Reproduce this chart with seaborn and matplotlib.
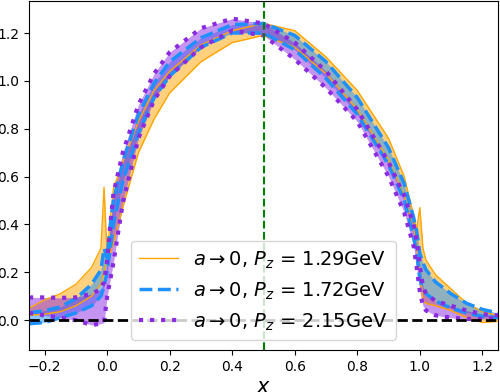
import numpy as np
import pandas as pd
import matplotlib
matplotlib.use("Agg")
import matplotlib.pyplot as plt
import seaborn as sns

# x grid shared by the three bands
x = [-0.25, -0.2, -0.15, -0.1, -0.05, -0.02, -0.01, 0.0, 0.01, 0.02, 0.05, 0.1, 0.15, 0.2, 0.3, 0.4,
     0.5, 0.6, 0.7, 0.8, 0.9, 0.95, 0.98, 0.99, 1.0, 1.01, 1.02, 1.05, 1.1, 1.15, 1.2, 1.25]

# Pz = 1.29 GeV
orange_hi = [0.05, 0.085, 0.11, 0.15, 0.22, 0.30, 0.555, 0.27, 0.42, 0.55, 0.66, 0.83, 0.96, 1.04, 1.15, 1.21,
             1.24, 1.21, 1.10, 0.96, 0.76, 0.60, 0.44, 0.38, 0.47, 0.30, 0.25, 0.19, 0.13, 0.07, 0.035, 0.02]
orange_lo = [0.02, 0.025, 0.035, 0.06, 0.10, 0.15, 0.20, 0.25, 0.28, 0.32, 0.47, 0.70, 0.84, 0.95, 1.08, 1.16,
             1.19, 1.14, 1.03, 0.88, 0.67, 0.52, 0.38, 0.32, 0.20, 0.08, 0.07, 0.06, 0.04, 0.01, -0.01, -0.005]

# Pz = 1.72 GeV
blue_hi = [0.03, 0.04, 0.055, 0.09, 0.15, 0.21, 0.30, 0.26, 0.40, 0.50, 0.66, 0.86, 0.99, 1.08, 1.18, 1.235,
           1.24, 1.19, 1.08, 0.93, 0.72, 0.57, 0.43, 0.37, 0.28, 0.24, 0.21, 0.16, 0.11, 0.07, 0.045, 0.03]
blue_lo = [-0.015, -0.01, 0.01, 0.03, 0.06, 0.10, 0.14, 0.20, 0.30, 0.40, 0.58, 0.78, 0.93, 1.02, 1.14, 1.20,
           1.20, 1.13, 1.01, 0.86, 0.65, 0.50, 0.35, 0.28, 0.17, 0.13, 0.11, 0.08, 0.05, 0.03, 0.015, 0.01]

# Pz = 2.15 GeV
purple_hi = [0.095, 0.095, 0.093, 0.095, 0.11, 0.13, 0.16, 0.25, 0.40, 0.53, 0.70, 0.90, 1.03, 1.12, 1.22, 1.26,
             1.24, 1.16, 1.04, 0.88, 0.66, 0.52, 0.40, 0.33, 0.23, 0.14, 0.11, 0.08, 0.06, 0.04, 0.025, 0.02]
purple_lo = [0.03, 0.02, 0.01, 0.0, -0.02, -0.015, -0.01, 0.10, 0.17, 0.24, 0.49, 0.76, 0.92, 1.02, 1.14, 1.21,
             1.19, 1.09, 0.97, 0.83, 0.60, 0.45, 0.31, 0.22, 0.12, 0.06, 0.04, 0.02, 0.01, 0.005, 0.005, 0.01]

labels = [r"$a \rightarrow 0$, $P_z$ = 1.29GeV",
          r"$a \rightarrow 0$, $P_z$ = 1.72GeV",
          r"$a \rightarrow 0$, $P_z$ = 2.15GeV"]

plt.rcParams["font.family"] = ["DejaVu Sans"]

fig, ax = plt.subplots(figsize=(5, 3.92), dpi=100)
fig.subplots_adjust(left=0.058, right=0.996, top=0.997, bottom=0.107)

bands = [
    (orange_hi, orange_lo, "orange", "-", 1.0),
    (blue_hi, blue_lo, "dodgerblue", "--", 2.5),
    (purple_hi, purple_lo, "blueviolet", ":", 3.0),
]

for (hi, lo, color, ls, lw), label in zip(bands, labels):
    df = pd.DataFrame({"x": x, "hi": hi, "lo": lo})
    ax.fill_between(df["x"], df["lo"], df["hi"], color=color, alpha=0.5, linewidth=0)
    sns.lineplot(data=df, x="x", y="hi", color=color, linestyle=ls, linewidth=lw, ax=ax, label=label)
    sns.lineplot(data=df, x="x", y="lo", color=color, linestyle=ls, linewidth=lw, ax=ax)

ax.axhline(0, color="black", linestyle="--", linewidth=2)
ax.axvline(0.5, color="green", linestyle="--", linewidth=1.5)

ax.set_xlim(-0.25, 1.25)
ax.set_ylim(-0.125, 1.333)
ax.set_xticks(np.arange(-0.2, 1.21, 0.2))
ax.set_yticks(np.arange(0.0, 1.21, 0.2))
ax.set_xlabel("$x$", fontsize=15, labelpad=2)
ax.set_ylabel("")

ax.legend(loc="lower center", fontsize=14)

fig.savefig("out.png", dpi=100)
